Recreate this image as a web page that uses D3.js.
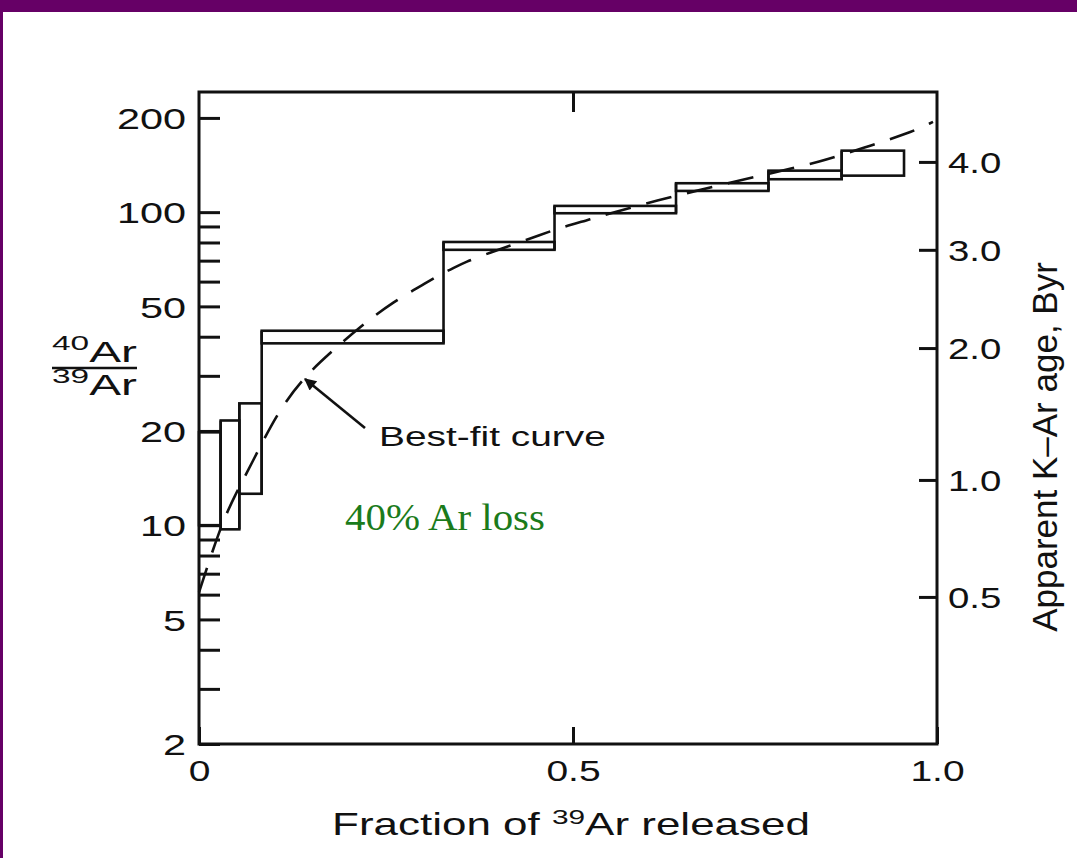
<!DOCTYPE html>
<html>
<head>
<meta charset="utf-8">
<script src="https://cdn.jsdelivr.net/npm/d3@7"></script>
<style>
  html, body { margin: 0; padding: 0; background: #fff; }
  svg { display: block; }
</style>
</head>
<body>
<svg id="chart" width="1077" height="858"></svg>
<script>
// Step-heating release steps: fraction of 39Ar released (start / end of each step)
const stepStart = [0, 0.029, 0.0539, 0.0838, 0.3269, 0.4753, 0.6415, 0.7685, 0.8691];
const stepEnd   = [0.029, 0.0539, 0.0838, 0.3269, 0.4753, 0.6415, 0.7685, 0.8691, 0.9547];
// 40Ar/39Ar range (low / high) measured for each step
const ratioLow  = [10.0, 9.7, 12.6, 38.1, 75.8, 99.2, 116.9, 127.4, 130.8];
const ratioHigh = [19.8, 21.6, 24.5, 41.8, 80.3, 104.7, 123.7, 135.7, 157.2];

// Best-fit curve through the release spectrum
const fitFraction = [0, 0.028, 0.0481, 0.0709, 0.1043, 0.139, 0.1751, 0.2152, 0.2594, 0.3061,
                     0.3262, 0.3356, 0.3556, 0.3917, 0.4184, 0.4559, 0.4826, 0.5192, 0.544,
                     0.6168, 0.6923, 0.7734, 0.8393, 0.8984, 0.963, 0.9945];
const fitRatio    = [6.1, 9.8, 12.5, 15.8, 22.8, 29.5, 35.5, 43.0, 51.7, 59.9,
                     64.0, 65.4, 69.3, 74.6, 78.6, 84.5, 89.1, 94.2, 98.0,
                     109.4, 120.4, 133.5, 144.5, 160.4, 179.1, 194.2];

// Axis ticks
const ratioTicks     = [2, 3, 4, 5, 6, 7, 8, 9, 10, 20, 30, 40, 50, 60, 70, 80, 90, 100, 200];
const ratioLabels    = [2, 5, 10, 20, 50, 100, 200];
const fractionTicks  = [0, 0.5, 1.0];
const fractionLabels = ["0", "0.5", "1.0"];
// Apparent K-Ar age ticks and the 40Ar/39Ar value each one sits at
const ageLabels      = ["0.5", "1.0", "2.0", "3.0", "4.0"];
const ageTickRatio   = [5.9, 13.95, 36.8, 75.8, 144.7];

const svg = d3.select("#chart");
const W = 1077, H = 858;
const INK = "#111";
const SANS = "Arial, 'Liberation Sans', Helvetica, sans-serif";
const SERIF = "'Times New Roman', 'Liberation Serif', serif";

// slide background with purple border
svg.append("rect").attr("width", W).attr("height", H).attr("fill", "#fff");
svg.append("rect").attr("x", 0).attr("y", 0).attr("width", W).attr("height", 12).attr("fill", "#660066");
svg.append("rect").attr("x", 0).attr("y", 0).attr("width", 3).attr("height", H).attr("fill", "#660066");

const x = d3.scaleLinear().domain([0, 0.5, 1]).range([199, 573, 937]);
const y = d3.scaleLog().domain([2, 242]).range([744, 92]);

const x0 = x(0), x1 = x(1);
const [yb, yt] = y.range();

// widen glyphs horizontally, keeping the text anchor where the axis put it
function stretchText(sel, k) {
  sel.each(function () {
    const t = d3.select(this);
    const tx = +t.attr("x") || 0, ty = +t.attr("y") || 0;
    t.attr("transform", `translate(${tx},${ty}) scale(${k},1)`).attr("x", null).attr("y", null);
  });
}
// place a text at (px, py) and scale it horizontally to a given width
function fitText(t, px, py, width) {
  const w = t.node().getBBox().width;
  t.attr("transform", `translate(${px},${py}) scale(${width / w},1)`);
}

// plot frame
svg.append("rect")
  .attr("x", x0).attr("y", yt).attr("width", x1 - x0).attr("height", yb - yt)
  .attr("fill", "none").attr("stroke", INK).attr("stroke-width", 3);

function styleAxis(g) {
  g.select(".domain").remove();
  g.selectAll(".tick line").attr("stroke", INK).attr("stroke-width", 3);
  g.selectAll(".tick text").attr("font-family", SANS).attr("font-size", 30).attr("fill", INK);
}

// left axis: 40Ar/39Ar (log)
const gL = svg.append("g").attr("transform", `translate(${x0},0)`)
  .call(d3.axisLeft(y).tickValues(ratioTicks).tickSize(-21).tickPadding(13)
    .tickFormat(d => ratioLabels.includes(d) ? String(d) : ""));
styleAxis(gL);
gL.selectAll(".tick text").attr("dy", "0.36em");
stretchText(gL.selectAll(".tick text"), 1.38);

// bottom axis: fraction of 39Ar released
const gB = svg.append("g").attr("transform", `translate(0,${yb})`)
  .call(d3.axisBottom(x).tickValues(fractionTicks).tickSize(-17).tickPadding(16)
    .tickFormat((d, i) => fractionLabels[i]));
styleAxis(gB);
stretchText(gB.selectAll(".tick text"), 1.3);

// top axis: mid tick only
const gT = svg.append("g").attr("transform", `translate(0,${yt})`)
  .call(d3.axisTop(x).tickValues([0.5]).tickSize(-20).tickFormat(""));
styleAxis(gT);

// right axis: apparent K-Ar age
const gR = svg.append("g").attr("transform", `translate(${x1},0)`)
  .call(d3.axisRight(y).tickValues(ageTickRatio).tickSize(-18).tickPadding(11)
    .tickFormat((d, i) => ageLabels[i]));
styleAxis(gR);
gR.selectAll(".tick text").attr("dy", "0.36em");
stretchText(gR.selectAll(".tick text"), 1.28);

// release steps
const steps = stepStart.map((s, i) => ({ s, e: stepEnd[i], lo: ratioLow[i], hi: ratioHigh[i] }));
const gSteps = svg.append("g").attr("fill", "none").attr("stroke", INK).attr("stroke-width", 2.6);
gSteps.selectAll("rect").data(steps).join("rect")
  .attr("x", d => x(d.s))
  .attr("y", d => y(d.hi))
  .attr("width", d => x(d.e) - x(d.s))
  .attr("height", d => y(d.lo) - y(d.hi));

// risers joining neighbouring steps into a staircase
const risers = steps.slice(0, -1).map((d, i) => {
  const n = steps[i + 1];
  return { f: d.e, top: Math.max(d.hi, n.hi), bottom: Math.min(d.lo, n.lo) };
});
gSteps.selectAll("line").data(risers).join("line")
  .attr("x1", d => x(d.f)).attr("x2", d => x(d.f))
  .attr("y1", d => y(d.top)).attr("y2", d => y(d.bottom));

// best-fit curve
const fit = fitFraction.map((f, i) => [f, fitRatio[i]]);
svg.append("path")
  .attr("d", d3.line().x(d => x(d[0])).y(d => y(d[1])).curve(d3.curveBasis)(fit))
  .attr("fill", "none").attr("stroke", INK).attr("stroke-width", 2.6)
  .attr("stroke-dasharray", "26 16");

// arrow to the curve
svg.append("defs").append("marker")
  .attr("id", "head").attr("viewBox", "0 0 10 10").attr("refX", 9).attr("refY", 5)
  .attr("markerUnits", "userSpaceOnUse").attr("markerWidth", 16).attr("markerHeight", 12)
  .attr("orient", "auto")
  .append("path").attr("d", "M0,0 L10,5 L0,10 Z").attr("fill", INK);
svg.append("line")
  .attr("x1", x(0.2219)).attr("y1", y(20.45))
  .attr("x2", x(0.1417)).attr("y2", y(29.3))
  .attr("stroke", INK).attr("stroke-width", 2.6).attr("marker-end", "url(#head)");

const fitLabel = svg.append("text").attr("font-family", SANS).attr("font-size", 28).attr("fill", INK)
  .text("Best-fit curve");
fitText(fitLabel, x(0.2406), y(17.9), 227);

const lossLabel = svg.append("text").attr("font-family", SERIF).attr("font-size", 38).attr("fill", "#1b7b1b")
  .text("40% Ar loss");
fitText(lossLabel, x(0.1952), y(9.66), 200);

// left axis title: 40Ar / 39Ar
const num = svg.append("text").attr("font-family", SANS).attr("fill", INK);
num.append("tspan").attr("font-size", 21).attr("dy", -12).text("40");
num.append("tspan").attr("font-size", 30).attr("dy", 12).text("Ar");
fitText(num, 52, 362, 85);
svg.append("line").attr("x1", 52).attr("x2", 137).attr("y1", 368).attr("y2", 368)
  .attr("stroke", INK).attr("stroke-width", 2.6);
const den = svg.append("text").attr("font-family", SANS).attr("fill", INK);
den.append("tspan").attr("font-size", 21).attr("dy", -12).text("39");
den.append("tspan").attr("font-size", 30).attr("dy", 12).text("Ar");
fitText(den, 52, 395, 85);

// bottom axis title
const xt = svg.append("text").attr("font-family", SANS).attr("font-size", 31).attr("fill", INK)
  .attr("text-anchor", "middle");
xt.append("tspan").text("Fraction of ");
xt.append("tspan").attr("font-size", 21).attr("dy", -11).text("39");
xt.append("tspan").attr("dy", 11).text("Ar released");
fitText(xt, 571, 835, 478);

// right axis title
svg.append("text")
  .attr("font-family", SANS).attr("font-size", 35).attr("fill", INK)
  .attr("text-anchor", "middle")
  .attr("transform", "translate(1057,447) rotate(-90)")
  .text("Apparent K\u2013Ar age, Byr");
</script>
</body>
</html>
